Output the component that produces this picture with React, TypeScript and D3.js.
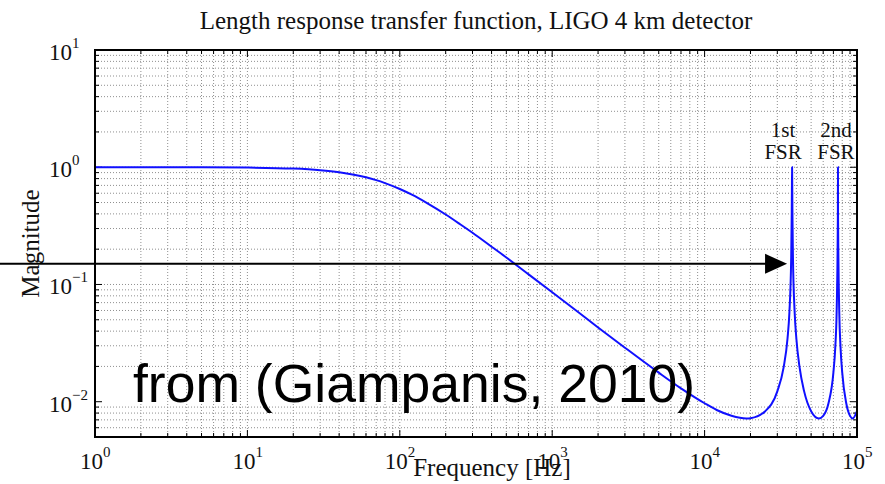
import React from "react";
import * as d3 from "d3";

const title = "Length response transfer function, LIGO 4 km detector";
const xLabel = "Frequency [Hz]";
const yLabel = "Magnitude";
const overlayText = "from (Giampanis, 2010)";
const peakLabels = [
  { f: 37500, lines: ["1st", "FSR"] },
  { f: 75000, lines: ["2nd", "FSR"] },
];
const xDecades = [0, 1, 2, 3, 4, 5];
const yDecades = [-2, -1, 0, 1];

const freqHz = [
  1, 5, 10, 20, 30, 40, 50, 60, 70, 80, 100, 120, 150, 200, 250, 300, 400, 500, 700,
  1000, 1500, 2000, 3000, 5000, 7000, 10000, 12000, 15000, 18750, 20000, 25000, 30000,
  33000, 35000, 36000, 37000, 37300, 37400, 37500, 37600, 37700, 38000, 39000, 40000,
  42000, 45000, 50000, 56250, 60000, 65000, 70000, 72000, 73500, 74500, 74900, 75000,
  75100, 75500, 76500, 78000, 80000, 85000, 90000, 93750, 100000,
];
const magnitude = [
  1.0, 0.998, 0.993, 0.974, 0.944, 0.907, 0.864, 0.82, 0.776, 0.732, 0.652, 0.583, 0.497,
  0.395, 0.325, 0.276, 0.21, 0.17, 0.122, 0.0857, 0.0573, 0.043, 0.0289, 0.0177, 0.013,
  0.0097, 0.0085, 0.0076, 0.0072, 0.00724, 0.0083, 0.01225, 0.0196, 0.0346, 0.0574,
  0.169, 0.395, 0.652, 1.0, 0.652, 0.395, 0.169, 0.0574, 0.0346, 0.0196, 0.01225, 0.0083,
  0.0072, 0.00757, 0.0097, 0.0177, 0.0289, 0.0574, 0.169, 0.395, 1.0, 0.395, 0.169,
  0.0574, 0.0289, 0.0177, 0.0097, 0.00757, 0.0072, 0.0083,
];

const W = 885;
const H = 484;
const M = { left: 95, right: 857, top: 50, bottom: 437 };

export default function App() {
  const x = d3.scaleLog().domain([1, 1e5]).range([M.left, M.right]);
  const y = d3.scaleLog().domain([0.005, 10]).range([M.bottom, M.top]);

  const xMinor: number[] = [];
  for (let k = 0; k < 5; k++) for (let m = 2; m <= 9; m++) xMinor.push(m * Math.pow(10, k));
  const yMinor: number[] = [];
  for (let k = -3; k < 1; k++)
    for (let m = 1; m <= 9; m++) {
      const v = m * Math.pow(10, k);
      if (v >= 0.005 && v <= 10 && m !== 1) yMinor.push(v);
    }
  const xMajor = xDecades.map((d) => Math.pow(10, d));
  const yMajor = yDecades.map((d) => Math.pow(10, d));

  const line = d3
    .line<number>()
    .x((_, i) => x(freqHz[i]))
    .y((d) => y(d))
    .curve(d3.curveMonotoneX);

  const gridStyle = { stroke: "#8f8f8f", strokeWidth: 1, strokeDasharray: "1,2" };
  const serif = "'Liberation Serif', 'Times New Roman', serif";
  const arrowY = y(0.15);
  const arrowEnd = x(37500) - 5;

  return (
    <svg width={W} height={H} style={{ position: "absolute", left: 0, top: 0, background: "#fff" }}>
      <rect x={0} y={0} width={W} height={H} fill="#fff" />
      {/* grid */}
      {[...xMinor, ...xMajor.slice(1, -1)].map((v, i) => (
        <line key={"gx" + i} x1={x(v)} x2={x(v)} y1={M.top} y2={M.bottom} {...gridStyle} />
      ))}
      {[...yMinor, ...yMajor.slice(1, -1)].map((v, i) => (
        <line key={"gy" + i} x1={M.left} x2={M.right} y1={y(v)} y2={y(v)} {...gridStyle} />
      ))}
      {/* ticks */}
      {xMinor.map((v, i) => (
        <g key={"tx" + i} stroke="#000" strokeWidth={1}>
          <line x1={x(v)} x2={x(v)} y1={M.bottom} y2={M.bottom - 4} />
          <line x1={x(v)} x2={x(v)} y1={M.top} y2={M.top + 4} />
        </g>
      ))}
      {xMajor.map((v, i) => (
        <g key={"TX" + i} stroke="#000" strokeWidth={1}>
          <line x1={x(v)} x2={x(v)} y1={M.bottom} y2={M.bottom - 7} />
          <line x1={x(v)} x2={x(v)} y1={M.top} y2={M.top + 7} />
        </g>
      ))}
      {yMinor.map((v, i) => (
        <g key={"ty" + i} stroke="#000" strokeWidth={1}>
          <line x1={M.left} x2={M.left + 4} y1={y(v)} y2={y(v)} />
          <line x1={M.right} x2={M.right - 4} y1={y(v)} y2={y(v)} />
        </g>
      ))}
      {yMajor.map((v, i) => (
        <g key={"TY" + i} stroke="#000" strokeWidth={1}>
          <line x1={M.left} x2={M.left + 7} y1={y(v)} y2={y(v)} />
          <line x1={M.right} x2={M.right - 7} y1={y(v)} y2={y(v)} />
        </g>
      ))}
      {/* curve */}
      <path d={line(magnitude) || ""} fill="none" stroke="#1010ff" strokeWidth={2} />
      {/* frame */}
      <rect
        x={M.left}
        y={M.top}
        width={M.right - M.left}
        height={M.bottom - M.top}
        fill="none"
        stroke="#000"
        strokeWidth={2}
      />
      {/* x tick labels */}
      {xDecades.map((d) => (
        <text key={"lx" + d} x={x(Math.pow(10, d)) - 15} y={469} fontFamily={serif} fontSize={23} fill="#111">
          10
          <tspan dy={-12} fontSize={15}>{d}</tspan>
        </text>
      ))}
      {/* y tick labels */}
      {yDecades.map((d) => (
        <text key={"ly" + d} x={49} y={y(Math.pow(10, d)) + 10} fontFamily={serif} fontSize={23} fill="#111">
          10
          <tspan dy={-12} fontSize={15}>{d < 0 ? "\u2212" + Math.abs(d) : d}</tspan>
        </text>
      ))}
      {/* title */}
      <text x={(M.left + M.right) / 2} y={29} textAnchor="middle" fontFamily={serif} fontSize={25} fill="#111">
        {title}
      </text>
      {/* axis labels */}
      <text x={492} y={476} textAnchor="middle" fontFamily={serif} fontSize={25} fill="#111">
        {xLabel}
      </text>
      <text
        transform={`translate(39, ${(M.top + M.bottom) / 2}) rotate(-90)`}
        textAnchor="middle"
        fontFamily={serif}
        fontSize={25}
        fill="#111"
      >
        {yLabel}
      </text>
      {/* FSR labels */}
      {peakLabels.map((p, i) => (
        <text key={"pl" + i} textAnchor="middle" fontFamily={serif} fontSize={21} fill="#111">
          <tspan x={x(p.f) - (i === 0 ? 9 : 2)} y={137}>{p.lines[0]}</tspan>
          <tspan x={x(p.f) - (i === 0 ? 9 : 2)} y={159}>{p.lines[1]}</tspan>
        </text>
      ))}
      {/* arrow */}
      <line x1={0} x2={arrowEnd - 20} y1={arrowY} y2={arrowY} stroke="#000" strokeWidth={2} />
      <path
        d={`M${arrowEnd},${arrowY} L${arrowEnd - 22},${arrowY - 10} L${arrowEnd - 22},${arrowY + 10} Z`}
        fill="#000"
      />
      {/* overlay */}
      <text x={133} y={402} fontFamily="'Liberation Sans', Arial, sans-serif" fontSize={53.5} fill="#000">
        {overlayText}
      </text>
    </svg>
  );
}
